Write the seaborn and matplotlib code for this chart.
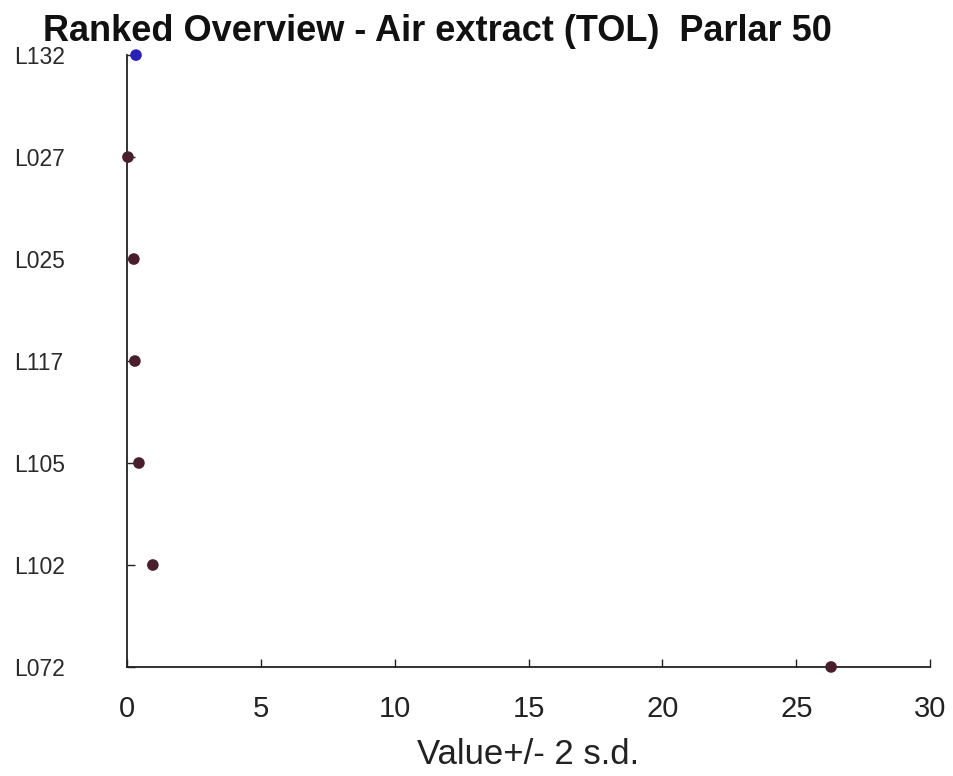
import numpy as np
import pandas as pd
import matplotlib
matplotlib.use("Agg")
import matplotlib.pyplot as plt
import seaborn as sns

# values, top to bottom
labs = ["L132", "L027", "L025", "L117", "L105", "L102", "L072"]
vals = [0.34, 0.04, 0.26, 0.30, 0.45, 0.97, 26.3]
grp = ["own", "other", "other", "other", "other", "other", "other"]

df = pd.DataFrame({"lab": labs, "val": vals, "grp": grp})
df["pos"] = np.arange(len(labs))[::-1]

sns.set_style("white")
plt.rcParams["font.family"] = ["Liberation Sans", "DejaVu Sans"]

fig = plt.figure(figsize=(9.54, 7.76), dpi=100)
ax = fig.add_axes([0.133, 0.1405, 0.842, 0.7885])

sns.scatterplot(data=df, x="val", y="pos", hue="grp",
                palette={"own": "#2a1fb8", "other": "#4a1e2c"},
                s=70, edgecolor="none", legend=False, ax=ax, clip_on=False, zorder=3)

ax.set_xlim(0, 30)
ax.set_ylim(0, len(labs) - 1)
ax.set_xticks([0, 5, 10, 15, 20, 25, 30])
ax.set_yticks(df["pos"])
ax.set_yticklabels(df["lab"], ha="left")
ax.tick_params(axis="x", direction="in", length=6, width=1, labelsize=21, pad=20,
               color="#222222", labelcolor="#222222")
ax.tick_params(axis="y", direction="in", length=6, width=1, labelsize=16.5, pad=81,
               color="#222222", labelcolor="#2a2a2a")
ax.tick_params(left=True, bottom=True)
for s in ["top", "right"]:
    ax.spines[s].set_visible(False)
for s in ["left", "bottom"]:
    ax.spines[s].set_color("#222222")
    ax.spines[s].set_linewidth(1.3)

ax.set_xlabel("Value+/- 2 s.d.", fontsize=25, color="#222222")
ax.xaxis.label.set_va("center")
ax.xaxis.set_label_coords(0.5, -0.143)
ax.set_ylabel("")

fig.text(0.459, 0.947, "Ranked Overview - Air extract (TOL)  Parlar 50",
         ha="center", va="baseline", fontsize=26, fontweight="bold", color="#111111")

fig.savefig("out.png", dpi=100)
